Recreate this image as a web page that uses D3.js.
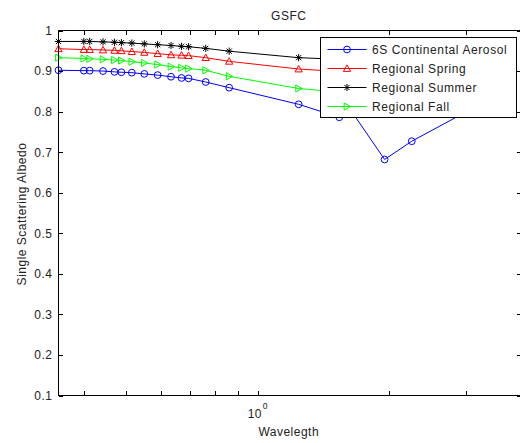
<!DOCTYPE html>
<html><head><meta charset="utf-8">
<script src="https://cdn.jsdelivr.net/npm/d3@7"></script>
<style>
html,body{margin:0;padding:0;background:#fff;}
text{font-family:"Liberation Sans",Arial,Helvetica,sans-serif;}
</style></head>
<body><svg id="c" width="520" height="443"></svg>
<script>
const wavelengths = [0.35,0.4,0.4125,0.4425,0.47,0.4875,0.515,0.55,0.59,0.6331,0.6691,0.6944,0.76,0.86,1.24,1.536,1.65,1.95,2.25,3.75];
const continental6S = [0.902,0.901,0.901,0.900,0.898,0.897,0.896,0.893,0.890,0.886,0.883,0.882,0.873,0.859,0.818,0.786,0.796,0.682,0.727,0.856];
const regionalSpring = [0.955,0.953,0.953,0.952,0.951,0.950,0.948,0.946,0.943,0.940,0.939,0.938,0.933,0.924,0.905,0.899,0.897,0.890,0.885,0.870];
const regionalSummer = [0.973,0.973,0.973,0.972,0.971,0.970,0.969,0.967,0.965,0.963,0.961,0.960,0.956,0.949,0.933,0.929,0.927,0.920,0.915,0.900];
const regionalFall = [0.933,0.931,0.930,0.929,0.927,0.926,0.923,0.920,0.916,0.911,0.908,0.906,0.902,0.887,0.857,0.848,0.845,0.835,0.830,0.810];
const seriesNames = ["6S Continental Aerosol","Regional Spring","Regional Summer","Regional Fall"];
const yTicks = [0.1,0.2,0.3,0.4,0.5,0.6,0.7,0.8,0.9,1];
const yTickLabels = ["0.1","0.2","0.3","0.4","0.5","0.6","0.7","0.8","0.9","1"];
const xTicks = [0.4,0.5,0.6,0.7,0.8,0.9,1,2,3];
const chartTitle = "GSFC", xLabel = "Wavelegth", yLabel = "Single Scattering Albedo";

(function(){
const series = [
  {name:seriesNames[0], values:continental6S, color:"#0000ff", marker:"circle"},
  {name:seriesNames[1], values:regionalSpring, color:"#ff0000", marker:"triUp"},
  {name:seriesNames[2], values:regionalSummer, color:"#000000", marker:"star"},
  {name:seriesNames[3], values:regionalFall, color:"#00ff00", marker:"triRight"}
];

const svg = d3.select("#c");
const L=58.5, R=521, T=30.5, B=395.5;
const x = d3.scaleLog().domain([0.35,4]).range([L,R]);
const y = d3.scaleLinear().domain([0.1,1]).range([B,T]);
const TS = 4.5;

svg.append("rect").attr("width",520).attr("height",443).attr("fill","#fff");
svg.append("rect").attr("x",L).attr("y",T).attr("width",R-L).attr("height",B-T).attr("fill","#fff");

function drawMarker(g, type, cx, cy, color){
  if(type==="circle"){
    g.append("circle").attr("cx",cx).attr("cy",cy).attr("r",3.4).attr("fill","none").attr("stroke",color).attr("stroke-width",1);
  } else if(type==="triUp"){
    const s=3.6;
    g.append("path").attr("d",`M${cx},${cy-s}L${cx+s},${cy+s*0.8}L${cx-s},${cy+s*0.8}Z`).attr("fill","none").attr("stroke",color);
  } else if(type==="triRight"){
    const s=3.6;
    g.append("path").attr("d",`M${cx+s},${cy}L${cx-s*0.8},${cy-s}L${cx-s*0.8},${cy+s}Z`).attr("fill","none").attr("stroke",color);
  } else if(type==="star"){
    const s=3.6, d=2.6;
    g.append("path").attr("d",`M${cx-s},${cy}L${cx+s},${cy}M${cx},${cy-s}L${cx},${cy+s}M${cx-d},${cy-d}L${cx+d},${cy+d}M${cx-d},${cy+d}L${cx+d},${cy-d}`).attr("stroke",color).attr("stroke-width",1);
  }
}

const plot = svg.append("g");
const line = d3.line().x((d,i)=>x(wavelengths[i])).y(d=>y(d));
series.forEach(s=>{
  plot.append("path").datum(s.values).attr("d",line).attr("fill","none").attr("stroke",s.color).attr("stroke-width",1);
  s.values.forEach((v,i)=>drawMarker(plot,s.marker,x(wavelengths[i]),y(v),s.color));
});

// axes
const axG = svg.append("g").attr("shape-rendering","crispEdges");
axG.append("g").attr("transform",`translate(0,${B})`).call(d3.axisBottom(x).tickValues(xTicks).tickSizeInner(-TS).tickSizeOuter(0).tickFormat(""));
axG.append("g").attr("transform",`translate(0,${T})`).call(d3.axisTop(x).tickValues(xTicks).tickSizeInner(-TS).tickSizeOuter(0).tickFormat(""));
const leftAx = axG.append("g").attr("transform",`translate(${L},0)`).call(d3.axisLeft(y).tickValues(yTicks).tickSizeInner(-TS).tickSizeOuter(0).tickPadding(6).tickFormat((d,i)=>yTickLabels[i]));
axG.append("g").attr("transform",`translate(${R},0)`).call(d3.axisRight(y).tickValues(yTicks).tickSizeInner(-TS).tickSizeOuter(0).tickFormat(""));
axG.selectAll(".domain").remove();
axG.selectAll(".tick line").attr("stroke","#000");
leftAx.selectAll("text").attr("font-size",12).attr("fill","#222").style("letter-spacing","0.5px").attr("font-family","Liberation Sans, Arial, sans-serif");
axG.append("rect").attr("x",L).attr("y",T).attr("width",R-L).attr("height",B-T).attr("fill","none").attr("stroke","#000");

// 10^0 label
svg.append("text").attr("x",x(1)-3).attr("y",417.5).attr("text-anchor","middle").attr("font-size",12).attr("fill","#222").style("letter-spacing","0.5px").text("10");
svg.append("text").attr("x",x(1)+5).attr("y",408.5).attr("font-size",8.5).attr("fill","#222").text("0");

svg.append("text").attr("x",(L+R)/2-1).attr("y",435.5).attr("text-anchor","middle").attr("font-size",12).attr("fill","#222").style("letter-spacing","0.5px").text(xLabel);
svg.append("text").attr("x",(L+R)/2-1).attr("y",20).attr("text-anchor","middle").attr("font-size",12).attr("fill","#222").style("letter-spacing","0.5px").text(chartTitle);
svg.append("text").attr("transform",`translate(25.5,${(T+B)/2+1}) rotate(-90)`).attr("text-anchor","middle").attr("font-size",12).attr("fill","#222").style("letter-spacing","0.5px").text(yLabel);

// legend
const lg = svg.append("g");
lg.append("rect").attr("x",320.5).attr("y",37.5).attr("width",196).attr("height",80).attr("fill","#fff").attr("stroke","#000").attr("shape-rendering","crispEdges");
const rowY = [49.5,68.5,87.5,106.5];
series.forEach((s,i)=>{
  lg.append("line").attr("x1",327.5).attr("x2",366.5).attr("y1",rowY[i]).attr("y2",rowY[i]).attr("stroke",s.color);
  drawMarker(lg,s.marker,347,rowY[i],s.color);
  lg.append("text").attr("x",372).attr("y",rowY[i]+4.5).attr("font-size",12).attr("fill","#222").style("letter-spacing","0.6px").text(s.name);
});
})();
</script></body></html>
